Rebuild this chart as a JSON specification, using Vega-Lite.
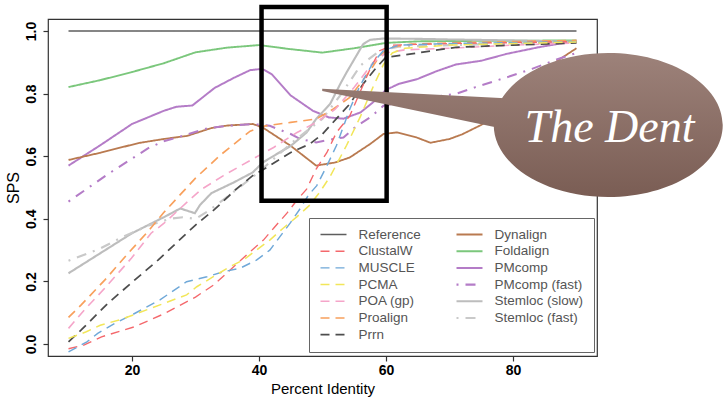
{
  "$schema": "https://vega.github.io/schema/vega-lite/v6.json",
  "width": 549,
  "height": 337,
  "autosize": "none",
  "padding": {"left": 48, "top": 19, "right": 127, "bottom": 43},
  "config": {
    "font": "Liberation Sans",
    "view": {"stroke": "#333333", "strokeWidth": 1.2}
  },
  "datasets": {
    "sps": [
      {"method": "Reference", "pid": 10, "sps": 1.0},
      {"method": "Reference", "pid": 90, "sps": 1.0},

      {"method": "Foldalign", "pid": 10, "sps": 0.821},
      {"method": "Foldalign", "pid": 15, "sps": 0.843},
      {"method": "Foldalign", "pid": 20, "sps": 0.869},
      {"method": "Foldalign", "pid": 25, "sps": 0.897},
      {"method": "Foldalign", "pid": 30, "sps": 0.932},
      {"method": "Foldalign", "pid": 35, "sps": 0.947},
      {"method": "Foldalign", "pid": 40, "sps": 0.955},
      {"method": "Foldalign", "pid": 45, "sps": 0.942},
      {"method": "Foldalign", "pid": 50, "sps": 0.931},
      {"method": "Foldalign", "pid": 55, "sps": 0.945},
      {"method": "Foldalign", "pid": 60, "sps": 0.962},
      {"method": "Foldalign", "pid": 65, "sps": 0.967},
      {"method": "Foldalign", "pid": 70, "sps": 0.968},
      {"method": "Foldalign", "pid": 80, "sps": 0.969},
      {"method": "Foldalign", "pid": 90, "sps": 0.970},

      {"method": "PMcomp", "pid": 10, "sps": 0.570},
      {"method": "PMcomp", "pid": 15, "sps": 0.635},
      {"method": "PMcomp", "pid": 20, "sps": 0.703},
      {"method": "PMcomp", "pid": 25, "sps": 0.745},
      {"method": "PMcomp", "pid": 27, "sps": 0.758},
      {"method": "PMcomp", "pid": 29.5, "sps": 0.762},
      {"method": "PMcomp", "pid": 33, "sps": 0.818},
      {"method": "PMcomp", "pid": 36, "sps": 0.850},
      {"method": "PMcomp", "pid": 38.6, "sps": 0.875},
      {"method": "PMcomp", "pid": 40.5, "sps": 0.879},
      {"method": "PMcomp", "pid": 42, "sps": 0.862},
      {"method": "PMcomp", "pid": 45, "sps": 0.794},
      {"method": "PMcomp", "pid": 48.5, "sps": 0.745},
      {"method": "PMcomp", "pid": 51, "sps": 0.724},
      {"method": "PMcomp", "pid": 53.3, "sps": 0.720},
      {"method": "PMcomp", "pid": 56, "sps": 0.740},
      {"method": "PMcomp", "pid": 58, "sps": 0.773},
      {"method": "PMcomp", "pid": 60, "sps": 0.812},
      {"method": "PMcomp", "pid": 62, "sps": 0.831},
      {"method": "PMcomp", "pid": 65, "sps": 0.847},
      {"method": "PMcomp", "pid": 68, "sps": 0.872},
      {"method": "PMcomp", "pid": 71, "sps": 0.893},
      {"method": "PMcomp", "pid": 75, "sps": 0.905},
      {"method": "PMcomp", "pid": 79, "sps": 0.927},
      {"method": "PMcomp", "pid": 84, "sps": 0.948},
      {"method": "PMcomp", "pid": 90, "sps": 0.969},

      {"method": "Dynalign", "pid": 10, "sps": 0.588},
      {"method": "Dynalign", "pid": 15, "sps": 0.611},
      {"method": "Dynalign", "pid": 21, "sps": 0.642},
      {"method": "Dynalign", "pid": 25, "sps": 0.655},
      {"method": "Dynalign", "pid": 28.7, "sps": 0.665},
      {"method": "Dynalign", "pid": 32.5, "sps": 0.690},
      {"method": "Dynalign", "pid": 35, "sps": 0.698},
      {"method": "Dynalign", "pid": 39, "sps": 0.703},
      {"method": "Dynalign", "pid": 40.5, "sps": 0.693},
      {"method": "Dynalign", "pid": 45, "sps": 0.633},
      {"method": "Dynalign", "pid": 49, "sps": 0.570},
      {"method": "Dynalign", "pid": 52, "sps": 0.580},
      {"method": "Dynalign", "pid": 54.3, "sps": 0.596},
      {"method": "Dynalign", "pid": 57.5, "sps": 0.639},
      {"method": "Dynalign", "pid": 59.6, "sps": 0.671},
      {"method": "Dynalign", "pid": 61.7, "sps": 0.676},
      {"method": "Dynalign", "pid": 64.8, "sps": 0.660},
      {"method": "Dynalign", "pid": 67, "sps": 0.643},
      {"method": "Dynalign", "pid": 70, "sps": 0.655},
      {"method": "Dynalign", "pid": 72, "sps": 0.670},
      {"method": "Dynalign", "pid": 75, "sps": 0.700},
      {"method": "Dynalign", "pid": 80, "sps": 0.760},
      {"method": "Dynalign", "pid": 84, "sps": 0.830},
      {"method": "Dynalign", "pid": 87, "sps": 0.905},
      {"method": "Dynalign", "pid": 90, "sps": 0.945},

      {"method": "PMcomp (fast)", "pid": 10, "sps": 0.455},
      {"method": "PMcomp (fast)", "pid": 16, "sps": 0.540},
      {"method": "PMcomp (fast)", "pid": 22.5, "sps": 0.625},
      {"method": "PMcomp (fast)", "pid": 25, "sps": 0.648},
      {"method": "PMcomp (fast)", "pid": 28, "sps": 0.665},
      {"method": "PMcomp (fast)", "pid": 32, "sps": 0.690},
      {"method": "PMcomp (fast)", "pid": 35, "sps": 0.697},
      {"method": "PMcomp (fast)", "pid": 39, "sps": 0.703},
      {"method": "PMcomp (fast)", "pid": 41.7, "sps": 0.697},
      {"method": "PMcomp (fast)", "pid": 45, "sps": 0.671},
      {"method": "PMcomp (fast)", "pid": 46.5, "sps": 0.655},
      {"method": "PMcomp (fast)", "pid": 49, "sps": 0.644},
      {"method": "PMcomp (fast)", "pid": 51.7, "sps": 0.655},
      {"method": "PMcomp (fast)", "pid": 53.3, "sps": 0.660},
      {"method": "PMcomp (fast)", "pid": 55.4, "sps": 0.697},
      {"method": "PMcomp (fast)", "pid": 57.5, "sps": 0.724},
      {"method": "PMcomp (fast)", "pid": 59.6, "sps": 0.761},
      {"method": "PMcomp (fast)", "pid": 63, "sps": 0.775},
      {"method": "PMcomp (fast)", "pid": 67, "sps": 0.788},
      {"method": "PMcomp (fast)", "pid": 71, "sps": 0.799},
      {"method": "PMcomp (fast)", "pid": 74, "sps": 0.820},
      {"method": "PMcomp (fast)", "pid": 79, "sps": 0.852},
      {"method": "PMcomp (fast)", "pid": 83, "sps": 0.879},
      {"method": "PMcomp (fast)", "pid": 87, "sps": 0.910},
      {"method": "PMcomp (fast)", "pid": 90, "sps": 0.930},

      {"method": "Stemloc (slow)", "pid": 10, "sps": 0.226},
      {"method": "Stemloc (slow)", "pid": 15, "sps": 0.290},
      {"method": "Stemloc (slow)", "pid": 20, "sps": 0.354},
      {"method": "Stemloc (slow)", "pid": 25, "sps": 0.405},
      {"method": "Stemloc (slow)", "pid": 27.6, "sps": 0.433},
      {"method": "Stemloc (slow)", "pid": 29.9, "sps": 0.418},
      {"method": "Stemloc (slow)", "pid": 30.7, "sps": 0.444},
      {"method": "Stemloc (slow)", "pid": 32.5, "sps": 0.482},
      {"method": "Stemloc (slow)", "pid": 36, "sps": 0.516},
      {"method": "Stemloc (slow)", "pid": 39, "sps": 0.548},
      {"method": "Stemloc (slow)", "pid": 40.6, "sps": 0.580},
      {"method": "Stemloc (slow)", "pid": 42.8, "sps": 0.607},
      {"method": "Stemloc (slow)", "pid": 45, "sps": 0.633},
      {"method": "Stemloc (slow)", "pid": 47.5, "sps": 0.676},
      {"method": "Stemloc (slow)", "pid": 49, "sps": 0.719},
      {"method": "Stemloc (slow)", "pid": 51.2, "sps": 0.767},
      {"method": "Stemloc (slow)", "pid": 52.8, "sps": 0.831},
      {"method": "Stemloc (slow)", "pid": 53.8, "sps": 0.868},
      {"method": "Stemloc (slow)", "pid": 56.4, "sps": 0.958},
      {"method": "Stemloc (slow)", "pid": 57.5, "sps": 0.972},
      {"method": "Stemloc (slow)", "pid": 59.6, "sps": 0.976},
      {"method": "Stemloc (slow)", "pid": 65, "sps": 0.975},
      {"method": "Stemloc (slow)", "pid": 70, "sps": 0.973},
      {"method": "Stemloc (slow)", "pid": 80, "sps": 0.970},
      {"method": "Stemloc (slow)", "pid": 90, "sps": 0.966},

      {"method": "Stemloc (fast)", "pid": 10, "sps": 0.266},
      {"method": "Stemloc (fast)", "pid": 15, "sps": 0.305},
      {"method": "Stemloc (fast)", "pid": 18.6, "sps": 0.343},
      {"method": "Stemloc (fast)", "pid": 22.8, "sps": 0.380},
      {"method": "Stemloc (fast)", "pid": 26, "sps": 0.400},
      {"method": "Stemloc (fast)", "pid": 28, "sps": 0.405},
      {"method": "Stemloc (fast)", "pid": 30, "sps": 0.400},
      {"method": "Stemloc (fast)", "pid": 32, "sps": 0.425},
      {"method": "Stemloc (fast)", "pid": 35, "sps": 0.470},
      {"method": "Stemloc (fast)", "pid": 40, "sps": 0.550},
      {"method": "Stemloc (fast)", "pid": 45, "sps": 0.640},
      {"method": "Stemloc (fast)", "pid": 50, "sps": 0.720},
      {"method": "Stemloc (fast)", "pid": 53, "sps": 0.800},
      {"method": "Stemloc (fast)", "pid": 56, "sps": 0.890},
      {"method": "Stemloc (fast)", "pid": 59, "sps": 0.937},
      {"method": "Stemloc (fast)", "pid": 62, "sps": 0.950},
      {"method": "Stemloc (fast)", "pid": 70, "sps": 0.955},
      {"method": "Stemloc (fast)", "pid": 80, "sps": 0.960},
      {"method": "Stemloc (fast)", "pid": 90, "sps": 0.965},

      {"method": "Proalign", "pid": 10, "sps": 0.085},
      {"method": "Proalign", "pid": 12, "sps": 0.125},
      {"method": "Proalign", "pid": 15.7, "sps": 0.204},
      {"method": "Proalign", "pid": 19.4, "sps": 0.290},
      {"method": "Proalign", "pid": 22.5, "sps": 0.359},
      {"method": "Proalign", "pid": 25, "sps": 0.420},
      {"method": "Proalign", "pid": 30, "sps": 0.530},
      {"method": "Proalign", "pid": 34, "sps": 0.605},
      {"method": "Proalign", "pid": 38.6, "sps": 0.680},
      {"method": "Proalign", "pid": 41, "sps": 0.697},
      {"method": "Proalign", "pid": 45, "sps": 0.708},
      {"method": "Proalign", "pid": 49, "sps": 0.719},
      {"method": "Proalign", "pid": 51.7, "sps": 0.751},
      {"method": "Proalign", "pid": 54.3, "sps": 0.788},
      {"method": "Proalign", "pid": 55.9, "sps": 0.831},
      {"method": "Proalign", "pid": 57.5, "sps": 0.873},
      {"method": "Proalign", "pid": 59, "sps": 0.921},
      {"method": "Proalign", "pid": 60.6, "sps": 0.948},
      {"method": "Proalign", "pid": 64, "sps": 0.958},
      {"method": "Proalign", "pid": 70, "sps": 0.962},
      {"method": "Proalign", "pid": 80, "sps": 0.966},
      {"method": "Proalign", "pid": 90, "sps": 0.970},

      {"method": "POA (gp)", "pid": 10, "sps": 0.050},
      {"method": "POA (gp)", "pid": 12.5, "sps": 0.109},
      {"method": "POA (gp)", "pid": 15.7, "sps": 0.178},
      {"method": "POA (gp)", "pid": 19.9, "sps": 0.274},
      {"method": "POA (gp)", "pid": 23, "sps": 0.354},
      {"method": "POA (gp)", "pid": 25, "sps": 0.385},
      {"method": "POA (gp)", "pid": 29.3, "sps": 0.465},
      {"method": "POA (gp)", "pid": 31, "sps": 0.495},
      {"method": "POA (gp)", "pid": 34.4, "sps": 0.538},
      {"method": "POA (gp)", "pid": 39, "sps": 0.591},
      {"method": "POA (gp)", "pid": 42.3, "sps": 0.628},
      {"method": "POA (gp)", "pid": 46, "sps": 0.676},
      {"method": "POA (gp)", "pid": 49, "sps": 0.708},
      {"method": "POA (gp)", "pid": 52, "sps": 0.750},
      {"method": "POA (gp)", "pid": 55, "sps": 0.820},
      {"method": "POA (gp)", "pid": 58, "sps": 0.900},
      {"method": "POA (gp)", "pid": 60, "sps": 0.930},
      {"method": "POA (gp)", "pid": 63, "sps": 0.940},
      {"method": "POA (gp)", "pid": 70, "sps": 0.945},
      {"method": "POA (gp)", "pid": 80, "sps": 0.955},
      {"method": "POA (gp)", "pid": 90, "sps": 0.962},

      {"method": "Prrn", "pid": 10, "sps": 0.007},
      {"method": "Prrn", "pid": 12, "sps": 0.045},
      {"method": "Prrn", "pid": 16.2, "sps": 0.130},
      {"method": "Prrn", "pid": 20.4, "sps": 0.204},
      {"method": "Prrn", "pid": 24.1, "sps": 0.268},
      {"method": "Prrn", "pid": 28.3, "sps": 0.348},
      {"method": "Prrn", "pid": 30, "sps": 0.380},
      {"method": "Prrn", "pid": 33, "sps": 0.430},
      {"method": "Prrn", "pid": 36.3, "sps": 0.493},
      {"method": "Prrn", "pid": 39, "sps": 0.538},
      {"method": "Prrn", "pid": 41.7, "sps": 0.570},
      {"method": "Prrn", "pid": 45, "sps": 0.612},
      {"method": "Prrn", "pid": 48, "sps": 0.639},
      {"method": "Prrn", "pid": 50, "sps": 0.671},
      {"method": "Prrn", "pid": 52.2, "sps": 0.720},
      {"method": "Prrn", "pid": 54.3, "sps": 0.767},
      {"method": "Prrn", "pid": 56.4, "sps": 0.831},
      {"method": "Prrn", "pid": 58.5, "sps": 0.884},
      {"method": "Prrn", "pid": 60, "sps": 0.916},
      {"method": "Prrn", "pid": 64, "sps": 0.927},
      {"method": "Prrn", "pid": 71, "sps": 0.948},
      {"method": "Prrn", "pid": 80, "sps": 0.955},
      {"method": "Prrn", "pid": 90, "sps": 0.962},

      {"method": "ClustalW", "pid": 10, "sps": -0.015},
      {"method": "ClustalW", "pid": 12.5, "sps": -0.003},
      {"method": "ClustalW", "pid": 15.2, "sps": 0.023},
      {"method": "ClustalW", "pid": 20.4, "sps": 0.055},
      {"method": "ClustalW", "pid": 25.2, "sps": 0.098},
      {"method": "ClustalW", "pid": 30, "sps": 0.150},
      {"method": "ClustalW", "pid": 32.8, "sps": 0.188},
      {"method": "ClustalW", "pid": 34.9, "sps": 0.226},
      {"method": "ClustalW", "pid": 38.6, "sps": 0.295},
      {"method": "ClustalW", "pid": 40.7, "sps": 0.332},
      {"method": "ClustalW", "pid": 42.3, "sps": 0.370},
      {"method": "ClustalW", "pid": 44.4, "sps": 0.418},
      {"method": "ClustalW", "pid": 46, "sps": 0.460},
      {"method": "ClustalW", "pid": 47.5, "sps": 0.495},
      {"method": "ClustalW", "pid": 49, "sps": 0.559},
      {"method": "ClustalW", "pid": 50.7, "sps": 0.612},
      {"method": "ClustalW", "pid": 52.2, "sps": 0.676},
      {"method": "ClustalW", "pid": 54.3, "sps": 0.729},
      {"method": "ClustalW", "pid": 55.9, "sps": 0.804},
      {"method": "ClustalW", "pid": 57.5, "sps": 0.879},
      {"method": "ClustalW", "pid": 59, "sps": 0.937},
      {"method": "ClustalW", "pid": 61, "sps": 0.955},
      {"method": "ClustalW", "pid": 70, "sps": 0.960},
      {"method": "ClustalW", "pid": 80, "sps": 0.963},
      {"method": "ClustalW", "pid": 90, "sps": 0.966},

      {"method": "MUSCLE", "pid": 10, "sps": -0.025},
      {"method": "MUSCLE", "pid": 12.9, "sps": 0.007},
      {"method": "MUSCLE", "pid": 14.6, "sps": 0.034},
      {"method": "MUSCLE", "pid": 17.3, "sps": 0.066},
      {"method": "MUSCLE", "pid": 20, "sps": 0.093},
      {"method": "MUSCLE", "pid": 24.4, "sps": 0.141},
      {"method": "MUSCLE", "pid": 28.6, "sps": 0.199},
      {"method": "MUSCLE", "pid": 31.8, "sps": 0.215},
      {"method": "MUSCLE", "pid": 34.4, "sps": 0.231},
      {"method": "MUSCLE", "pid": 37, "sps": 0.242},
      {"method": "MUSCLE", "pid": 39.6, "sps": 0.268},
      {"method": "MUSCLE", "pid": 41.7, "sps": 0.300},
      {"method": "MUSCLE", "pid": 43.3, "sps": 0.343},
      {"method": "MUSCLE", "pid": 44.9, "sps": 0.386},
      {"method": "MUSCLE", "pid": 46.5, "sps": 0.433},
      {"method": "MUSCLE", "pid": 47.8, "sps": 0.476},
      {"method": "MUSCLE", "pid": 49.1, "sps": 0.506},
      {"method": "MUSCLE", "pid": 50.7, "sps": 0.570},
      {"method": "MUSCLE", "pid": 52.2, "sps": 0.634},
      {"method": "MUSCLE", "pid": 54.3, "sps": 0.751},
      {"method": "MUSCLE", "pid": 55.9, "sps": 0.825},
      {"method": "MUSCLE", "pid": 58, "sps": 0.900},
      {"method": "MUSCLE", "pid": 59.6, "sps": 0.937},
      {"method": "MUSCLE", "pid": 62, "sps": 0.955},
      {"method": "MUSCLE", "pid": 70, "sps": 0.960},
      {"method": "MUSCLE", "pid": 80, "sps": 0.963},
      {"method": "MUSCLE", "pid": 90, "sps": 0.966},

      {"method": "PCMA", "pid": 10, "sps": 0.018},
      {"method": "PCMA", "pid": 12.8, "sps": 0.039},
      {"method": "PCMA", "pid": 15, "sps": 0.060},
      {"method": "PCMA", "pid": 18, "sps": 0.077},
      {"method": "PCMA", "pid": 20.2, "sps": 0.093},
      {"method": "PCMA", "pid": 24.4, "sps": 0.125},
      {"method": "PCMA", "pid": 28.6, "sps": 0.157},
      {"method": "PCMA", "pid": 30.2, "sps": 0.183},
      {"method": "PCMA", "pid": 32.8, "sps": 0.215},
      {"method": "PCMA", "pid": 35.4, "sps": 0.247},
      {"method": "PCMA", "pid": 37.5, "sps": 0.268},
      {"method": "PCMA", "pid": 39.6, "sps": 0.300},
      {"method": "PCMA", "pid": 41.7, "sps": 0.332},
      {"method": "PCMA", "pid": 43.8, "sps": 0.370},
      {"method": "PCMA", "pid": 46, "sps": 0.407},
      {"method": "PCMA", "pid": 48, "sps": 0.444},
      {"method": "PCMA", "pid": 49.6, "sps": 0.486},
      {"method": "PCMA", "pid": 51.2, "sps": 0.535},
      {"method": "PCMA", "pid": 53.8, "sps": 0.635},
      {"method": "PCMA", "pid": 56, "sps": 0.728},
      {"method": "PCMA", "pid": 58, "sps": 0.823},
      {"method": "PCMA", "pid": 59.6, "sps": 0.893},
      {"method": "PCMA", "pid": 61, "sps": 0.930},
      {"method": "PCMA", "pid": 63, "sps": 0.945},
      {"method": "PCMA", "pid": 70, "sps": 0.955},
      {"method": "PCMA", "pid": 80, "sps": 0.960},
      {"method": "PCMA", "pid": 90, "sps": 0.965}
    ],
    "note": [
      {"label": "The Dent"}
    ]
  },
  "layer": [
    {
      "data": {"name": "sps"},
      "mark": {"type": "line", "clip": true},
      "encoding": {
        "x": {
          "field": "pid", "type": "quantitative",
          "scale": {"domain": [6.77, 93.23], "nice": false, "zero": false},
          "axis": {
            "values": [20, 40, 60, 80],
            "title": "Percent Identity",
            "titleFont": "Liberation Sans", "titleFontSize": 15, "titleFontWeight": "normal", "titleColor": "#000000", "titlePadding": 4,
            "labelFont": "Liberation Sans", "labelFontSize": 14, "labelFontWeight": "bold", "labelColor": "#000000", "labelPadding": 2,
            "tickSize": 5, "tickColor": "#333333", "tickWidth": 1.2,
            "domain": false, "grid": false
          }
        },
        "y": {
          "field": "sps", "type": "quantitative",
          "scale": {"domain": [-0.0383, 1.0384], "nice": false, "zero": false},
          "axis": {
            "values": [0, 0.2, 0.4, 0.6, 0.8, 1.0],
            "format": ".1f",
            "title": "SPS",
            "titleFont": "Liberation Sans", "titleFontSize": 16, "titleFontWeight": "normal", "titleColor": "#000000", "titlePadding": 3,
            "labelFont": "Liberation Sans", "labelFontSize": 14, "labelFontWeight": "bold", "labelColor": "#000000",
            "labelAngle": 270, "labelAlign": "center", "labelBaseline": "alphabetic", "labelPadding": 8,
            "tickSize": 5, "tickColor": "#333333", "tickWidth": 1.2,
            "domain": false, "grid": false
          }
        },
        "color": {
          "field": "method", "type": "nominal",
          "scale": {
            "domain": ["Reference", "ClustalW", "MUSCLE", "PCMA", "POA (gp)", "Proalign", "Prrn", "Dynalign", "Foldalign", "PMcomp", "PMcomp (fast)", "Stemloc (slow)", "Stemloc (fast)"],
            "range": ["#5e5e5e", "#f4686c", "#6fa8d8", "#f2e65a", "#f5a5c9", "#f8a05c", "#4d4d4d", "#b97a50", "#7bc77c", "#b47cc7", "#b47cc7", "#bdbdbd", "#c9c9c9"]
          },
          "legend": {
            "title": null, "orient": "none", "legendX": 261, "legendY": 199,
            "columns": 2, "columnPadding": 34, "rowPadding": 2.7, "clipHeight": 13,
            "symbolType": "stroke", "symbolSize": 676, "symbolStrokeWidth": 2.5,
            "labelFont": "Liberation Sans", "labelFontSize": 13.5, "labelColor": "#555555", "labelOffset": 10.5, "labelLimit": 200,
            "fillColor": "#ffffff", "strokeColor": "#666666", "padding": 10
          }
        },
        "strokeDash": {
          "field": "method", "type": "nominal",
          "scale": {
            "domain": ["Reference", "ClustalW", "MUSCLE", "PCMA", "POA (gp)", "Proalign", "Prrn", "Dynalign", "Foldalign", "PMcomp", "PMcomp (fast)", "Stemloc (slow)", "Stemloc (fast)"],
            "range": [[1, 0], [9, 6], [9, 6], [9, 6], [9, 6], [9, 6], [9, 6], [1, 0], [1, 0], [1, 0], [2, 7, 10, 7], [1, 0], [2, 7, 10, 7]]
          },
          "legend": {
            "title": null, "orient": "none", "legendX": 261, "legendY": 199,
            "columns": 2, "columnPadding": 34, "rowPadding": 2.7, "clipHeight": 13,
            "symbolType": "stroke", "symbolSize": 676, "symbolStrokeWidth": 2.5,
            "labelFont": "Liberation Sans", "labelFontSize": 13.5, "labelColor": "#555555", "labelOffset": 10.5, "labelLimit": 200,
            "fillColor": "#ffffff", "strokeColor": "#666666", "padding": 10
          }
        },
        "strokeWidth": {
          "field": "method", "type": "nominal",
          "scale": {
            "domain": ["Reference", "ClustalW", "MUSCLE", "PCMA", "POA (gp)", "Proalign", "Prrn", "Dynalign", "Foldalign", "PMcomp", "PMcomp (fast)", "Stemloc (slow)", "Stemloc (fast)"],
            "range": [1.3, 2.2, 2.2, 2.2, 2.2, 2.2, 2.2, 2.2, 2.2, 2.2, 2.2, 2.2, 2.2]
          },
          "legend": null
        }
      }
    },
    {
      "data": {"name": "note"},
      "mark": {"type": "rect", "fill": "transparent", "stroke": "#000000", "strokeWidth": 4.5, "clip": false},
      "encoding": {
        "x": {"datum": 40.4},
        "x2": {"datum": 60.1},
        "y": {"datum": 0.458},
        "y2": {"datum": 1.077}
      }
    },
    {
      "data": {"name": "note"},
      "mark": {
        "type": "point",
        "shape": "M -1 0 C -1 -0.347 -0.552 -0.629 0 -0.629 C 0.552 -0.629 1 -0.347 1 0 C 1 0.347 0.552 0.629 0 0.629 C -0.552 0.629 -1 0.347 -1 0 Z M -2.498 -0.316 L -0.7 -0.224 L -0.7 0.078 L -2.498 -0.296 Z",
        "size": 52441,
        "filled": true,
        "opacity": 1,
        "strokeWidth": 0,
        "clip": false,
        "fill": {
          "gradient": "linear", "x1": 0, "y1": 0, "x2": 0, "y2": 1,
          "stops": [{"offset": 0, "color": "#9d827a"}, {"offset": 1, "color": "#7a5d54"}]
        }
      },
      "encoding": {
        "x": {"datum": 95.0},
        "y": {"datum": 0.6997}
      }
    },
    {
      "data": {"name": "note"},
      "mark": {
        "type": "text", "font": "Liberation Serif", "fontStyle": "italic",
        "fontSize": 46, "color": "#ffffff", "align": "center", "baseline": "alphabetic", "clip": false
      },
      "encoding": {
        "text": {"field": "label"},
        "x": {"datum": 95.2},
        "y": {"datum": 0.645}
      }
    }
  ]
}
